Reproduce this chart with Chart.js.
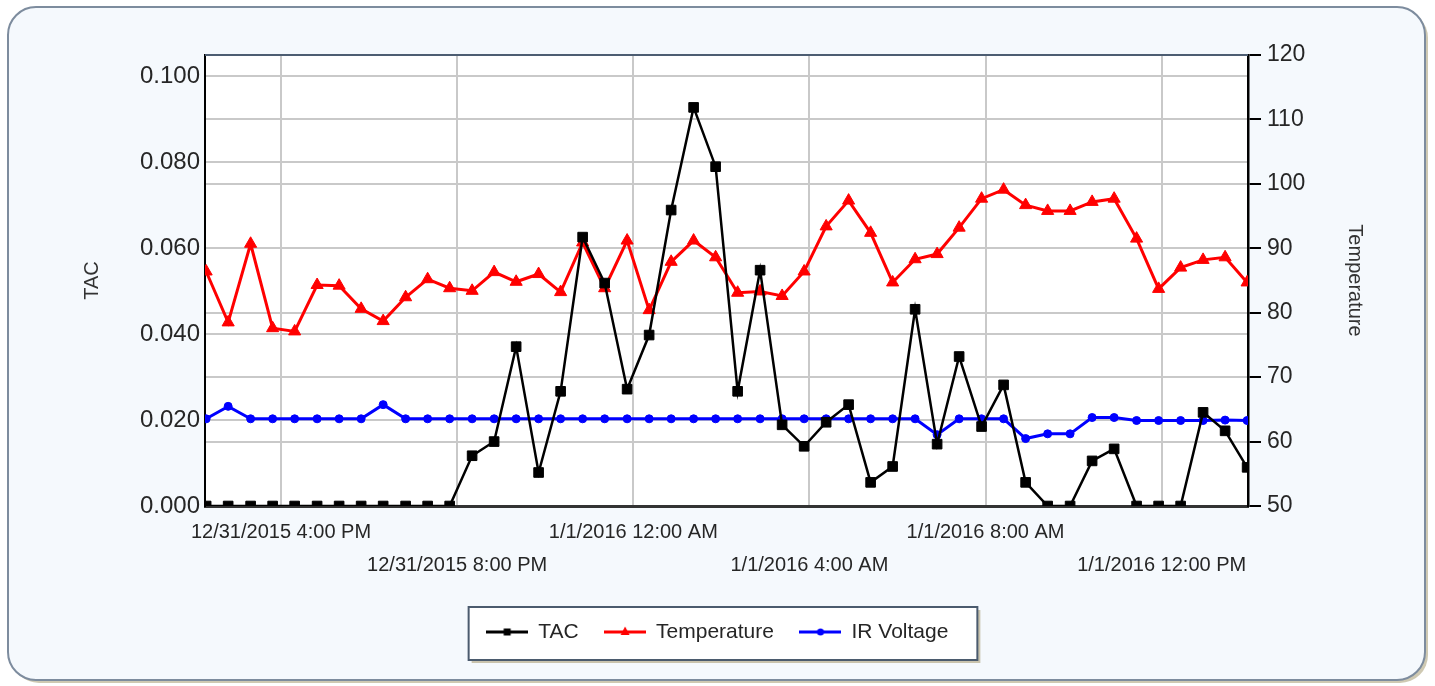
<!DOCTYPE html>
<html>
<head>
<meta charset="utf-8">
<script src="https://cdn.jsdelivr.net/npm/chart.js@4.4.1/dist/chart.umd.min.js"></script>
<style>
  html, body { margin: 0; padding: 0; background: #fff; }
  canvas { display: block; }
</style>
</head>
<body>
<canvas id="chart" width="1435" height="686"></canvas>
<script>
// sample times, hours counted from 12/31/2015 00:00
const sampleHours = [
  14.30, 14.80, 15.31, 15.81, 16.31, 16.82, 17.32, 17.82, 18.32, 18.83,
  19.33, 19.83, 20.34, 20.84, 21.34, 21.85, 22.35, 22.85, 23.35, 23.86,
  24.36, 24.86, 25.37, 25.87, 26.37, 26.88, 27.38, 27.88, 28.38, 28.89,
  29.39, 29.89, 30.40, 30.90, 31.40, 31.91, 32.41, 32.91, 33.41, 33.92,
  34.42, 34.92, 35.43, 35.93, 36.43, 36.94, 37.44, 37.94
];
const tacValues = [
  0, 0, 0, 0, 0, 0, 0, 0, 0, 0,
  0, 0, 0.0117, 0.0150, 0.0371, 0.0078, 0.0267, 0.0626, 0.0519, 0.0272,
  0.0398, 0.0689, 0.0928, 0.0790, 0.0267, 0.0549, 0.0189, 0.0139, 0.0195, 0.0236,
  0.0055, 0.0092, 0.0458, 0.0144, 0.0348, 0.0185, 0.0282, 0.0055, 0, 0,
  0.0105, 0.0133, 0, 0, 0, 0.0218, 0.0175, 0.0090
];
const temperatureValues = [
  86.4, 78.5, 90.7, 77.6, 77.1, 84.3, 84.2, 80.6, 78.7, 82.4,
  85.2, 83.8, 83.4, 86.3, 84.8, 86.0, 83.2, 90.9, 83.8, 91.2,
  80.4, 87.9, 91.2, 88.6, 83.1, 83.3, 82.6, 86.4, 93.4, 97.4,
  92.4, 84.7, 88.3, 89.1, 93.2, 97.7, 99.1, 96.7, 95.8, 95.8,
  97.2, 97.7, 91.5, 83.7, 87.0, 88.2, 88.6, 84.7
];
const irVoltageValues = [
  0.0203, 0.0232, 0.0203, 0.0203, 0.0203, 0.0203, 0.0203, 0.0203, 0.0236, 0.0203,
  0.0203, 0.0203, 0.0203, 0.0203, 0.0203, 0.0203, 0.0203, 0.0203, 0.0203, 0.0203,
  0.0203, 0.0203, 0.0203, 0.0203, 0.0203, 0.0203, 0.0203, 0.0203, 0.0203, 0.0203,
  0.0203, 0.0203, 0.0203, 0.0166, 0.0203, 0.0203, 0.0203, 0.0157, 0.0168, 0.0168,
  0.0206, 0.0206, 0.0199, 0.0199, 0.0199, 0.0199, 0.0200, 0.0199
];
const xTickHours = [16, 20, 24, 28, 32, 36];
const xTickLabels = [
  "12/31/2015 4:00 PM", "12/31/2015 8:00 PM", "1/1/2016 12:00 AM",
  "1/1/2016 4:00 AM", "1/1/2016 8:00 AM", "1/1/2016 12:00 PM"
];

const FONT = "'Liberation Sans', Arial, sans-serif";
const TEXT = "#262626";
const GRID = "#c9c9c9";
Chart.defaults.font.family = FONT;

function toPoints(values) {
  return sampleHours.map((h, i) => ({ x: h, y: values[i] }));
}

// legend icons: short line with the series marker in the middle
function legendIcon(color, marker) {
  const c = document.createElement("canvas");
  c.width = 42;
  c.height = 14;
  const g = c.getContext("2d");
  g.strokeStyle = color;
  g.fillStyle = color;
  g.lineWidth = 3;
  g.beginPath();
  g.moveTo(0, 7);
  g.lineTo(42, 7);
  g.stroke();
  g.beginPath();
  if (marker === "rect") {
    g.rect(17.5, 3.5, 7, 7);
  } else if (marker === "triangle") {
    g.moveTo(21, 1.5);
    g.lineTo(25.5, 10);
    g.lineTo(16.5, 10);
    g.closePath();
  } else {
    g.arc(21, 7, 3.5, 0, Math.PI * 2);
  }
  g.fill();
  return c;
}
const legendIcons = [
  legendIcon("#000000", "rect"),
  legendIcon("#ff0000", "triangle"),
  legendIcon("#0000ff", "circle"),
];

const framePlugin = {
  id: "frame",
  beforeDraw(chart) {
    const { ctx, chartArea: a, legend } = chart;
    ctx.save();
    ctx.fillStyle = "#ffffff";
    ctx.fillRect(0, 0, chart.width, chart.height);

    ctx.fillStyle = "#cfc9b2";
    ctx.beginPath();
    ctx.roundRect(11, 10, 1417, 673, 28);
    ctx.fill();
    ctx.fillStyle = "#f5f9fd";
    ctx.beginPath();
    ctx.roundRect(8, 7, 1417, 673, 28);
    ctx.fill();
    ctx.lineWidth = 2;
    ctx.strokeStyle = "#7d8c9e";
    ctx.stroke();

    ctx.fillStyle = "#ffffff";
    ctx.fillRect(a.left, a.top, a.right - a.left, a.bottom - a.top);

    const hb = legend.legendHitBoxes;
    if (hb && hb.length) {
      const last = hb[hb.length - 1];
      const x0 = hb[0].left - 18;
      const x1 = last.left + last.width + 29;
      const y0 = hb[0].top + hb[0].height / 2 - 25;
      const h = 53;
      ctx.fillStyle = "#c9c3ad";
      ctx.fillRect(x0 + 3, y0 + 3, x1 - x0, h);
      ctx.fillStyle = "#ffffff";
      ctx.fillRect(x0, y0, x1 - x0, h);
      ctx.lineWidth = 2;
      ctx.strokeStyle = "#4b5b6e";
      ctx.strokeRect(x0, y0, x1 - x0, h);
    }
    ctx.restore();
  },
  afterDraw(chart) {
    const { ctx, chartArea: a } = chart;
    ctx.save();
    ctx.strokeStyle = "#4d5d72";
    ctx.lineWidth = 2;
    ctx.beginPath();
    ctx.moveTo(a.left, a.top);
    ctx.lineTo(a.right, a.top);
    ctx.stroke();
    ctx.restore();
  },
};

new Chart(document.getElementById("chart"), {
  type: "line",
  data: {
    datasets: [
      {
        label: "TAC",
        data: toPoints(tacValues),
        yAxisID: "yTac",
        borderColor: "#000000",
        backgroundColor: "#000000",
        borderWidth: 2.5,
        pointStyle: "rect",
        pointRadius: 6.8,
        pointBorderWidth: 1,
      },
      {
        label: "Temperature",
        data: toPoints(temperatureValues),
        yAxisID: "yTemp",
        borderColor: "#ff0000",
        backgroundColor: "#ff0000",
        borderWidth: 3,
        pointStyle: "triangle",
        pointRadius: 7,
        pointBorderWidth: 1,
      },
      {
        label: "IR Voltage",
        data: toPoints(irVoltageValues),
        yAxisID: "yTac",
        borderColor: "#0000ff",
        backgroundColor: "#0000ff",
        borderWidth: 3,
        pointStyle: "circle",
        pointRadius: 4,
        pointBorderWidth: 1,
      },
    ],
  },
  options: {
    responsive: false,
    animation: false,
    events: [],
    layout: { padding: { left: 20, right: 20, top: 55, bottom: 33.5 } },
    plugins: {
      tooltip: { enabled: false },
      legend: {
        position: "bottom",
        labels: {
          usePointStyle: true,
          pointStyleWidth: 41,
          padding: 26,
          color: TEXT,
          font: { size: 21 },
          generateLabels: (chart) =>
            Chart.defaults.plugins.legend.labels
              .generateLabels(chart)
              .map((item, i) => ({ ...item, pointStyle: legendIcons[i] })),
        },
      },
    },
    scales: {
      x: {
        type: "linear",
        position: "bottom",
        min: 14.274,
        max: 37.96,
        afterBuildTicks: (s) => {
          s.ticks = xTickHours.map((v) => ({ value: v }));
        },
        afterFit: (s) => {
          s.height = 89.5;
        },
        ticks: {
          autoSkip: false,
          maxRotation: 0,
          padding: 10,
          color: TEXT,
          font: { size: 20, lineHeight: 1.65 },
          callback: (v) => {
            const i = xTickHours.indexOf(v);
            return i % 2 === 0 ? [xTickLabels[i], ""] : ["", xTickLabels[i]];
          },
        },
        grid: { color: GRID, lineWidth: 2, drawTicks: false },
        border: { color: "#333333", width: 3 },
      },
      yTac: {
        position: "left",
        min: 0,
        max: 0.105,
        afterFit: (s) => {
          s.width = 185;
        },
        ticks: {
          stepSize: 0.02,
          includeBounds: false,
          padding: 5,
          color: TEXT,
          font: { size: 24 },
          callback: (v) => v.toFixed(3),
        },
        grid: { color: GRID, lineWidth: 2, drawTicks: false },
        border: { color: "#000000", width: 2 },
        title: {
          display: true,
          text: "TAC",
          color: "#333333",
          font: { size: 20 },
          padding: { top: 60, bottom: 0 },
        },
      },
      yTemp: {
        position: "right",
        min: 50,
        max: 120,
        afterFit: (s) => {
          s.width = 167;
        },
        ticks: {
          stepSize: 10,
          padding: 6,
          color: TEXT,
          font: { size: 23 },
        },
        grid: {
          color: GRID,
          lineWidth: 2,
          tickLength: 13,
          tickColor: "#000000",
          tickWidth: 2,
        },
        border: { color: "#000000", width: 2.5 },
        title: {
          display: true,
          text: "Temperature",
          color: "#333333",
          font: { size: 20 },
          padding: { top: 48, bottom: 0 },
        },
      },
    },
  },
  plugins: [framePlugin],
});
</script>
</body>
</html>
